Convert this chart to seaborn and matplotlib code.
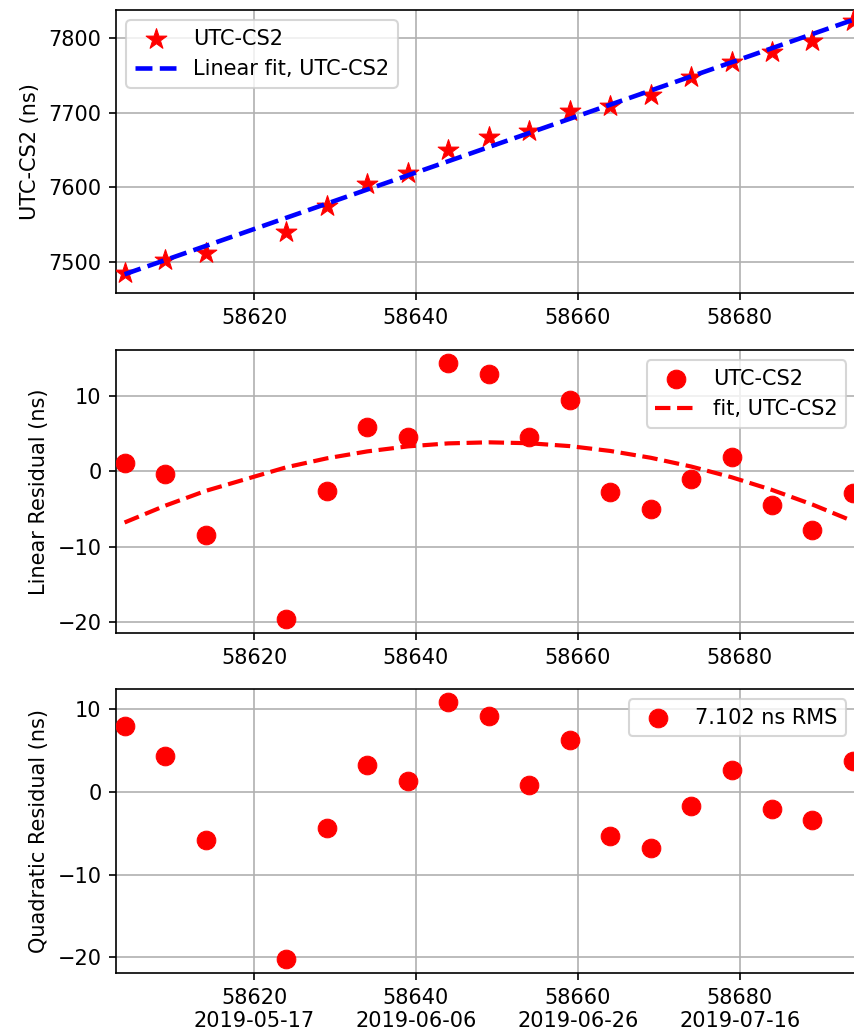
import numpy as np
import pandas as pd
import matplotlib
matplotlib.use("Agg")
import matplotlib.pyplot as plt
import seaborn as sns

# ---- data ----
mjd = [58604, 58609, 58614, 58624, 58629, 58634, 58639, 58644, 58649,
       58654, 58659, 58664, 58669, 58674, 58679, 58684, 58689, 58694]
utc_cs2 = [7485.3, 7503.1, 7512.0, 7539.6, 7574.4, 7604.3, 7619.0, 7650.2, 7667.2,
           7676.0, 7702.4, 7709.1, 7723.4, 7747.4, 7768.3, 7781.7, 7796.4, 7823.1]
lin_resid = [1.16, -0.34, -8.43, -19.6, -2.64, 5.93, 4.61, 14.42, 12.92,
             4.57, 9.47, -2.69, -5.02, -1.05, 1.87, -4.49, -7.76, -2.9]
quad_resid = [7.98, 4.29, -5.83, -20.24, -4.41, 3.27, 1.30, 10.81, 9.12,
              0.86, 6.26, -5.38, -6.79, -1.68, 2.67, -2.04, -3.37, 3.72]
rms_label = "7.102 ns RMS"
tick_mjd = [58620, 58640, 58660, 58680]
tick_dates = ["2019-05-17", "2019-06-06", "2019-06-26", "2019-07-16"]

x = np.array(mjd, dtype=float)
lin_coef = np.polyfit(x, np.array(utc_cs2), 1)
lin_fit = np.polyval(lin_coef, x)
quad_coef = np.polyfit(x, np.array(lin_resid), 2)
quad_fit = np.polyval(quad_coef, x)

plt.rcParams['font.family'] = ['DejaVu Sans']
plt.rcParams['font.size'] = 10

fig = plt.figure(figsize=(854 / 150, 1035 / 150), dpi=150)
W, H = 854.0, 1035.0
left_px, right_px = 116.0, 856.6
panels = [(10, 293), (350, 633), (689, 973)]
axes = []
for top, bot in panels:
    ax = fig.add_axes([left_px / W, 1 - bot / H, (right_px - left_px) / W, (bot - top) / H])
    axes.append(ax)

xlim = (58602.94, 58694.45)

# top panel
ax = axes[0]
sns.scatterplot(x=mjd, y=utc_cs2, ax=ax, marker='*', s=110, color='red',
                edgecolor='red', linewidth=0.5, label='UTC-CS2', zorder=3)
sns.lineplot(x=mjd, y=lin_fit, ax=ax, color='blue', linestyle='--', linewidth=2.2,
             label='Linear fit, UTC-CS2', zorder=4)
ax.set_ylim(7458.5, 7837.4)
ax.set_ylabel('UTC-CS2 (ns)')
ax.legend(loc='upper left')

# middle panel
ax = axes[1]
sns.scatterplot(x=mjd, y=lin_resid, ax=ax, marker='o', s=80, color='red',
                edgecolor='red', linewidth=0.5, label='UTC-CS2', zorder=3)
sns.lineplot(x=mjd, y=quad_fit, ax=ax, color='red', linestyle='--', linewidth=2.0,
             label='fit, UTC-CS2', zorder=4)
ax.set_ylim(-21.42, 16.1)
ax.set_yticks([-20, -10, 0, 10])
ax.set_ylabel('Linear Residual (ns)')
ax.legend(loc='upper right')

# bottom panel
ax = axes[2]
sns.scatterplot(x=mjd, y=quad_resid, ax=ax, marker='o', s=80, color='red',
                edgecolor='red', linewidth=0.5, label=rms_label, zorder=3)
ax.set_ylim(-21.9, 12.42)
ax.set_yticks([-20, -10, 0, 10])
ax.set_ylabel('Quadratic Residual (ns)')
ax.legend(loc='upper right')

for i, ax in enumerate(axes):
    ax.set_xlim(*xlim)
    ax.set_xticks(tick_mjd)
    if i == 2:
        ax.set_xticklabels([f"{m}\n{d}" for m, d in zip(tick_mjd, tick_dates)])
    else:
        ax.set_xticklabels([str(m) for m in tick_mjd])
    ax.set_xlabel('')
    ax.grid(True, color='#b0b0b0', linewidth=0.8)
    ax.set_axisbelow(True)

fig.savefig('out.png', dpi=150)
